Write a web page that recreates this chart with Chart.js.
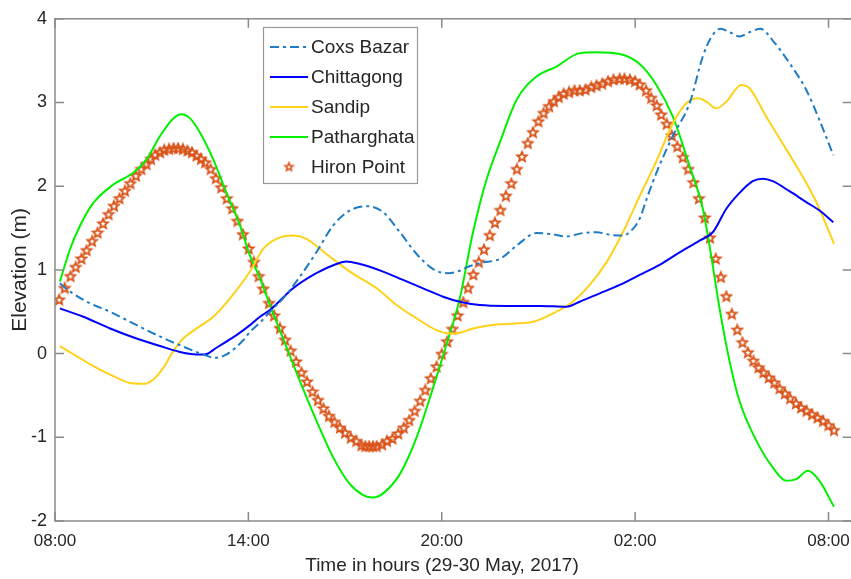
<!DOCTYPE html>
<html>
<head>
<meta charset="utf-8">
<title>Tidal elevation, 29-30 May 2017</title>
<script src="https://cdn.jsdelivr.net/npm/chart.js@4.4.0/dist/chart.umd.min.js"></script>
<style>
  html, body { margin: 0; padding: 0; background: #fff; overflow: hidden; }
  #wrap { width: 851px; height: 579px; overflow: hidden; }
</style>
</head>
<body>
<div id="wrap"><canvas id="tideChart" width="860" height="579"></canvas></div>
<script>
// x values are hours after 08:00 on 29 May
const tickHours = [0, 6, 12, 18, 24];
const tickLabels = ['08:00', '14:00', '20:00', '02:00', '08:00'];
const elevTicks = [-2, -1, 0, 1, 2, 3, 4];

const coxsHours = [0.15, 0.47, 1.09, 1.71, 2.33, 2.95, 3.57, 4.19, 4.6, 4.96, 5.32, 5.84, 6.05, 6.36, 6.67, 7.08, 7.6, 8.11, 8.63, 9.15, 9.72, 10.18, 10.7, 11.22, 11.73, 12.2, 12.56, 12.77, 13.28, 13.8, 14.32, 14.94, 15.35, 15.87, 16.38, 16.8, 17.21, 17.62, 17.93, 18.14, 18.35, 18.66, 19.17, 19.69, 20.1, 20.36, 20.65, 20.93, 21.24, 21.55, 21.89, 22.27, 22.79, 23.31, 23.72, 24.15];
const coxsElev = [0.84, 0.74, 0.6, 0.5, 0.38, 0.26, 0.15, 0.05, -0.01, -0.05, -0.01, 0.16, 0.26, 0.37, 0.5, 0.66, 0.92, 1.21, 1.53, 1.71, 1.76, 1.69, 1.45, 1.19, 1.01, 0.96, 0.99, 1.03, 1.09, 1.13, 1.29, 1.44, 1.43, 1.4, 1.44, 1.45, 1.42, 1.41, 1.49, 1.61, 1.84, 2.16, 2.6, 2.99, 3.55, 3.78, 3.88, 3.84, 3.79, 3.84, 3.88, 3.74, 3.47, 3.15, 2.79, 2.37];

const chitHours = [0.15, 0.88, 1.71, 2.53, 3.26, 3.98, 4.39, 4.65, 5.01, 5.63, 6.05, 6.36, 6.67, 7.39, 8.11, 8.73, 9.04, 9.46, 10.18, 10.8, 11.42, 12.04, 12.56, 13.18, 14.0, 15.04, 15.87, 16.28, 16.9, 17.52, 18.14, 18.76, 19.38, 20.0, 20.41, 20.83, 21.24, 21.65, 21.96, 22.27, 22.79, 23.31, 23.72, 24.15];
const chitElev = [0.54, 0.44, 0.3, 0.18, 0.09, 0.01, -0.01, -0.01, 0.07, 0.22, 0.34, 0.44, 0.52, 0.78, 0.96, 1.07, 1.1, 1.07, 0.98, 0.88, 0.78, 0.68, 0.62, 0.58, 0.57, 0.57, 0.56, 0.62, 0.72, 0.82, 0.94, 1.06, 1.21, 1.35, 1.45, 1.73, 1.92, 2.06, 2.09, 2.06, 1.94, 1.81, 1.71, 1.57];

const sandHours = [0.15, 0.67, 1.19, 1.81, 2.33, 2.79, 3.05, 3.36, 3.67, 3.98, 4.39, 4.91, 5.43, 6.05, 6.46, 6.87, 7.39, 7.8, 8.42, 9.15, 9.98, 10.6, 11.22, 11.84, 12.25, 12.56, 12.97, 13.8, 14.83, 15.45, 16.07, 16.59, 17.11, 17.62, 18.14, 18.66, 19.17, 19.59, 19.95, 20.21, 20.52, 20.83, 21.29, 21.55, 22.07, 22.69, 23.31, 23.72, 24.17];
const sandElev = [0.09, -0.03, -0.15, -0.27, -0.35, -0.36, -0.31, -0.17, 0.03, 0.18, 0.3, 0.44, 0.66, 0.98, 1.25, 1.37, 1.41, 1.37, 1.19, 0.98, 0.78, 0.58, 0.42, 0.28, 0.24, 0.25, 0.3, 0.35, 0.38, 0.48, 0.62, 0.82, 1.09, 1.45, 1.88, 2.3, 2.75, 2.99, 3.05, 3.01, 2.93, 3.01, 3.21, 3.17, 2.83, 2.44, 2.04, 1.73, 1.31];

const pathHours = [0.15, 0.47, 0.78, 1.19, 1.81, 2.43, 2.84, 3.26, 3.67, 3.93, 4.19, 4.5, 4.91, 5.32, 5.74, 6.05, 6.36, 6.67, 7.08, 7.6, 8.11, 8.63, 9.15, 9.56, 9.87, 10.18, 10.7, 11.22, 11.73, 12.1, 12.56, 12.97, 13.39, 13.8, 14.32, 14.94, 15.56, 16.28, 16.8, 17.52, 18.14, 18.66, 19.17, 19.69, 20.1, 20.36, 20.62, 20.93, 21.24, 21.76, 22.27, 22.69, 23.0, 23.36, 23.72, 24.17];
const pathElev = [0.86, 1.25, 1.53, 1.8, 2.02, 2.16, 2.32, 2.6, 2.81, 2.86, 2.81, 2.64, 2.32, 1.92, 1.53, 1.17, 0.9, 0.58, 0.18, -0.33, -0.8, -1.24, -1.56, -1.69, -1.72, -1.67, -1.44, -1.0, -0.41, 0.05, 0.66, 1.45, 2.08, 2.52, 3.03, 3.31, 3.43, 3.59, 3.6, 3.58, 3.46, 3.21, 2.83, 2.24, 1.73, 1.17, 0.54, -0.09, -0.57, -1.04, -1.36, -1.52, -1.5, -1.4, -1.52, -1.83];

const hironHours = [0.13, 0.3, 0.48, 0.64, 0.82, 0.98, 1.15, 1.32, 1.49, 1.66, 1.83, 2.0, 2.17, 2.34, 2.51, 2.68, 2.84, 2.98, 3.11, 3.26, 3.39, 3.54, 3.68, 3.82, 3.97, 4.11, 4.25, 4.39, 4.53, 4.66, 4.83, 4.99, 5.16, 5.33, 5.5, 5.66, 5.83, 6.01, 6.17, 6.32,
  6.46, 6.64, 6.8, 6.98, 7.14, 7.31, 7.48, 7.65, 7.82, 7.99, 8.16, 8.33, 8.5, 8.67, 8.84, 9.0, 9.18, 9.35, 9.51, 9.63, 9.75, 9.87, 9.98, 10.15, 10.3, 10.47, 10.65, 10.82, 10.99, 11.16, 11.33, 11.49, 11.66, 11.84, 12.0, 12.17, 12.33, 12.49,
  12.67, 12.82, 12.98, 13.15, 13.31, 13.49, 13.65, 13.82, 13.99, 14.16, 14.33, 14.49, 14.67, 14.83, 15.0, 15.16, 15.33, 15.48, 15.63, 15.78, 15.95, 16.12, 16.28, 16.46, 16.64, 16.8, 16.98, 17.16, 17.33, 17.52, 17.67, 17.84, 18.0, 18.14, 18.34, 18.5, 18.67, 18.81, 18.98,
  19.14, 19.31, 19.48, 19.65, 19.81, 19.98, 20.16, 20.32, 20.5, 20.66, 20.83, 21.0, 21.17, 21.33, 21.5, 21.67, 21.83, 21.98, 22.15, 22.32, 22.48, 22.65, 22.81, 22.99, 23.15, 23.32, 23.49, 23.66, 23.83, 24.0, 24.17];
const hironElev = [0.64, 0.78, 0.92, 1.03, 1.13, 1.23, 1.34, 1.44, 1.55, 1.66, 1.76, 1.85, 1.94, 2.03, 2.12, 2.2, 2.26, 2.32, 2.37, 2.4, 2.43, 2.44, 2.45, 2.45, 2.44, 2.42, 2.4, 2.36, 2.32, 2.28, 2.2, 2.09, 1.98, 1.85, 1.73, 1.58, 1.42, 1.25, 1.09, 0.92,
  0.77, 0.6, 0.45, 0.3, 0.16, 0.03, -0.1, -0.23, -0.34, -0.46, -0.56, -0.66, -0.75, -0.82, -0.89, -0.95, -1.01, -1.05, -1.1, -1.11, -1.11, -1.11, -1.11, -1.09, -1.05, -1.02, -0.96, -0.89, -0.8, -0.69, -0.57, -0.44, -0.3, -0.16, -0.01, 0.14, 0.29, 0.45,
  0.61, 0.78, 0.94, 1.09, 1.24, 1.41, 1.56, 1.71, 1.88, 2.03, 2.2, 2.35, 2.51, 2.64, 2.77, 2.87, 2.95, 3.01, 3.06, 3.1, 3.12, 3.14, 3.14, 3.15, 3.18, 3.2, 3.22, 3.25, 3.27, 3.28, 3.28, 3.27, 3.25, 3.21, 3.14, 3.05, 2.96, 2.85, 2.74,
  2.6, 2.47, 2.34, 2.2, 2.04, 1.85, 1.62, 1.38, 1.13, 0.91, 0.68, 0.47, 0.28, 0.13, 0.01, -0.09, -0.17, -0.23, -0.29, -0.35, -0.42, -0.48, -0.54, -0.6, -0.65, -0.69, -0.73, -0.77, -0.81, -0.86, -0.92];

const FONT = "'Liberation Sans', Arial, sans-serif";
const TXT = '#262626';
const AXIS = '#8a8a8a';

function pairs(hours, vals) {
  return hours.map((h, i) => ({ x: h, y: vals[i] }));
}

// hollow pentagram like matlab's 'p' marker
function pentagram(r, color, lw) {
  const c = document.createElement('canvas');
  const s = Math.ceil(r * 2 + 4);
  c.width = s; c.height = s;
  const g = c.getContext('2d');
  g.beginPath();
  for (let k = 0; k < 10; k++) {
    const rad = k % 2 === 0 ? r : r * 0.45;
    const a = -Math.PI / 2 + k * Math.PI / 5;
    const px = s / 2 + rad * Math.cos(a), py = s / 2 + rad * Math.sin(a);
    if (k === 0) g.moveTo(px, py); else g.lineTo(px, py);
  }
  g.closePath();
  g.strokeStyle = color;
  g.lineWidth = lw;
  g.stroke();
  return c;
}
const star = pentagram(5, '#D95319', 1.8);
const legendStar = pentagram(4.2, '#D95319', 1.6);

const series = [
  { label: 'Coxs Bazar', color: '#1f7cc4', dash: [9, 4, 3, 4] },
  { label: 'Chittagong', color: '#0000ff', dash: [] },
  { label: 'Sandip', color: '#ffd21a', dash: [] },
  { label: 'Patharghata', color: '#00f000', dash: [] },
  { label: 'Hiron Point', color: '#D95319', marker: true }
];

// frame with inward ticks, axis titles and the boxed legend
const matlabLook = {
  id: 'matlabLook',
  afterDraw(chart) {
    const { ctx, chartArea: a, scales: { x, y } } = chart;
    ctx.save();
    ctx.strokeStyle = AXIS;
    ctx.lineWidth = 1.5;
    ctx.strokeRect(a.left, a.top, a.right - a.left, a.bottom - a.top);
    ctx.beginPath();
    tickHours.forEach(h => {
      const px = x.getPixelForValue(h);
      ctx.moveTo(px, a.bottom); ctx.lineTo(px, a.bottom - 9);
      ctx.moveTo(px, a.top); ctx.lineTo(px, a.top + 9);
    });
    elevTicks.forEach(v => {
      const py = y.getPixelForValue(v);
      ctx.moveTo(a.left, py); ctx.lineTo(a.left + 9, py);
      ctx.moveTo(a.right, py); ctx.lineTo(a.right - 9, py);
    });
    ctx.stroke();

    ctx.fillStyle = TXT;
    ctx.textAlign = 'center';
    ctx.textBaseline = 'middle';
    ctx.font = '19px ' + FONT;
    ctx.fillText('Time in hours (29-30 May, 2017)', 442, 566);
    ctx.save();
    ctx.translate(20, (a.top + a.bottom) / 2);
    ctx.rotate(-Math.PI / 2);
    ctx.font = '21px ' + FONT;
    ctx.fillText('Elevation (m)', 0, 0);
    ctx.restore();

    // legend
    const lx = 263, ly = 27, lw = 154, lh = 156;
    ctx.fillStyle = '#fff';
    ctx.fillRect(lx, ly, lw, lh);
    ctx.strokeStyle = '#999';
    ctx.lineWidth = 1.2;
    ctx.strokeRect(lx + 0.5, ly + 0.5, lw, lh);
    ctx.font = '19px ' + FONT;
    ctx.textAlign = 'left';
    series.forEach((s, i) => {
      const ry = 47 + i * 30;
      if (s.marker) {
        ctx.drawImage(legendStar, 289 - legendStar.width / 2, ry - legendStar.height / 2);
      } else {
        ctx.strokeStyle = s.color;
        ctx.lineWidth = 2;
        ctx.setLineDash(s.dash);
        ctx.beginPath();
        ctx.moveTo(270, ry); ctx.lineTo(308, ry);
        ctx.stroke();
        ctx.setLineDash([]);
      }
      ctx.fillStyle = TXT;
      ctx.fillText(s.label, 311, ry + 1);
    });
    ctx.restore();
  }
};

const lineSet = (s, hours, vals) => ({
  label: s.label,
  data: pairs(hours, vals),
  borderColor: s.color,
  borderWidth: 2,
  borderDash: s.dash,
  pointRadius: 0,
  fill: false,
  cubicInterpolationMode: 'monotone'
});

new Chart(document.getElementById('tideChart'), {
  type: 'line',
  data: {
    datasets: [
      lineSet(series[0], coxsHours, coxsElev),
      lineSet(series[1], chitHours, chitElev),
      lineSet(series[2], sandHours, sandElev),
      lineSet(series[3], pathHours, pathElev),
      {
        label: 'Hiron Point',
        data: pairs(hironHours, hironElev),
        showLine: false,
        pointStyle: star,
        pointRadius: 5,
        borderColor: '#D95319'
      }
    ]
  },
  options: {
    responsive: false,
    animation: false,
    devicePixelRatio: 1,
    layout: { padding: { top: 15, right: 8, left: 0, bottom: 0 } },
    plugins: { legend: { display: false }, tooltip: { enabled: false } },
    scales: {
      x: {
        type: 'linear',
        min: 0,
        max: 24.72,
        afterBuildTicks: s => { s.ticks = tickHours.map(v => ({ value: v })); },
        afterFit: s => { s.height = 58; },
        grid: { display: false, drawTicks: false },
        border: { display: false },
        ticks: {
          padding: 10,
          maxRotation: 0,
          autoSkip: false,
          color: TXT,
          font: { family: FONT, size: 17 },
          callback: v => tickLabels[tickHours.indexOf(v)]
        }
      },
      y: {
        min: -2,
        max: 4,
        afterBuildTicks: s => { s.ticks = elevTicks.map(v => ({ value: v })); },
        afterFit: s => { s.width = 55; },
        grid: { display: false, drawTicks: false },
        border: { display: false },
        ticks: {
          padding: 8,
          color: TXT,
          font: { family: FONT, size: 18 },
          callback: v => String(v)
        }
      }
    }
  },
  plugins: [matlabLook]
});
</script>
</body>
</html>
